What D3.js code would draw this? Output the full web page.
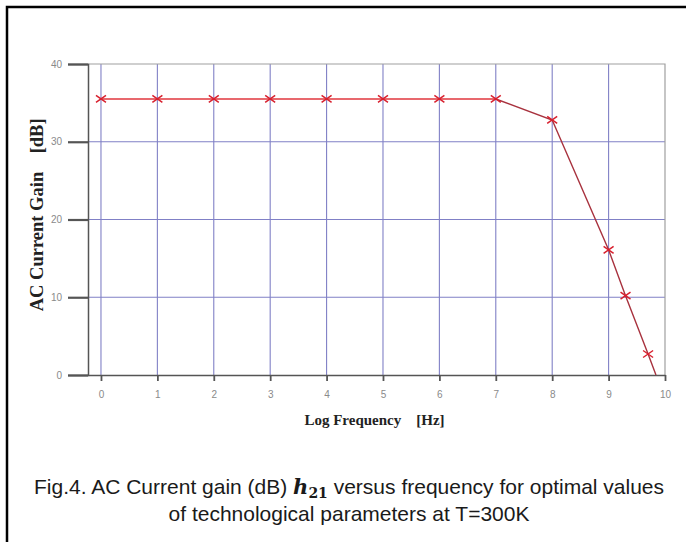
<!DOCTYPE html>
<html lang="en">
<head>
  <meta charset="UTF-8">
  <title>AC Current Gain vs Log Frequency</title>
  <script src="https://d3js.org/d3.v7.min.js"></script>
  <style>
    body { margin: 0; background: #fff; }
    svg { display: block; background: #fff; }
  </style>
</head>
<body>

<div id="chart"></div>

<script>
  // data
  const logFreq = [0, 1, 2, 3, 4, 5, 6, 7, 8, 9, 9.3, 9.7];
  const gainDb  = [35.5, 35.5, 35.5, 35.5, 35.5, 35.5, 35.5, 35.5, 32.8, 16.1, 10.2, 2.7];
  const tailPoint = [9.84, 0];          // where the curve leaves through the x axis (no marker)
  const flatEndIndex = 7;               // curve colour changes after this point
  const xTicks = [0, 1, 2, 3, 4, 5, 6, 7, 8, 9, 10];
  const yTicks = [0, 10, 20, 30, 40];
  const yMinorTicks = [2.5, 5, 7.5, 12.5, 15, 17.5, 22.5, 25, 27.5, 32.5, 35, 37.5];

  const width = 686, height = 542;
  const margin = { top: 64, right: 21, bottom: 167, left: 88 };

  const svg = d3.select("#chart").append("svg").attr("width", width).attr("height", height);

  // outer frame (cut off on the right and bottom)
  svg.append("path")
    .attr("d", `M7,${height} V7 H${width}`)
    .attr("fill", "none").attr("stroke", "#000").attr("stroke-width", 2.5);

  const x = d3.scaleLinear().domain([-0.23, 10]).range([margin.left, width - margin.right]);
  const y = d3.scaleLinear().domain([0, 40]).range([height - margin.bottom, margin.top]);

  // grid
  svg.append("g").selectAll("line").data(xTicks.slice(0, -1)).join("line")
    .attr("x1", d => x(d)).attr("x2", d => x(d))
    .attr("y1", y(40)).attr("y2", y(0))
    .attr("stroke", "#8080c6").attr("stroke-width", 1.1);
  svg.append("g").selectAll("line").data(yTicks.slice(1, -1)).join("line")
    .attr("x1", x.range()[0]).attr("x2", x.range()[1])
    .attr("y1", d => y(d)).attr("y2", d => y(d))
    .attr("stroke", "#8080c6").attr("stroke-width", 1.1);

  // top and right frame
  svg.append("path")
    .attr("d", `M${x.range()[0]},${y(40)} H${x(10)} V${y(0)}`)
    .attr("fill", "none").attr("stroke", "#a0a0a0").attr("stroke-width", 1.2);

  // y axis
  const yAxisG = svg.append("g").attr("transform", `translate(${margin.left},0)`);
  yAxisG.call(d3.axisLeft(y).tickValues(yMinorTicks).tickSize(10).tickFormat(""));
  yAxisG.call(d3.axisLeft(y).tickValues(yTicks).tickSize(20).tickPadding(6));
  yAxisG.selectAll("path.domain").attr("stroke", "#555").attr("stroke-width", 1.5);
  yAxisG.selectAll(".tick line").attr("stroke", "#555").attr("stroke-width", 1.2);
  yAxisG.selectAll(".tick line").filter(d => yTicks.includes(d)).attr("stroke-width", 2.2);
  yAxisG.selectAll("text").attr("fill", "#8a8a8a").style("font", "10px 'Liberation Sans', Arial");

  // x axis: integer ticks plus log-decade minor ticks
  const xMinor = [];
  xTicks.slice(0, -1).forEach(n => [2, 3, 4, 5, 6, 7, 8, 9].forEach(k => xMinor.push(n + Math.log10(k))));
  const xAxisG = svg.append("g").attr("transform", `translate(0,${y(0)})`);
  xAxisG.call(d3.axisBottom(x).tickValues(xMinor).tickSize(3).tickFormat("").tickSizeOuter(0));
  xAxisG.call(d3.axisBottom(x).tickValues(xTicks).tickSize(6).tickPadding(10).tickSizeOuter(0));
  xAxisG.selectAll("path.domain").attr("stroke", "#555").attr("stroke-width", 1.5);
  xAxisG.selectAll(".tick line").attr("stroke", "#555").attr("stroke-width", 1);
  xAxisG.selectAll(".tick line").filter(d => xTicks.includes(d)).attr("stroke-width", 1.8);
  xAxisG.selectAll("text").attr("fill", "#8a8a8a").style("font", "10px 'Liberation Sans', Arial");

  // axis titles
  svg.append("text")
    .attr("x", x(4.85)).attr("y", 425)
    .attr("text-anchor", "middle")
    .style("font", "bold 15px 'Liberation Serif', 'Times New Roman', serif")
    .attr("fill", "#222")
    .attr("xml:space", "preserve")
    .text("Log Frequency    [Hz]");

  svg.append("text")
    .attr("transform", `translate(43,${y(20.6)}) rotate(-90)`)
    .attr("text-anchor", "middle")
    .style("font", "bold 18.5px 'Liberation Serif', 'Times New Roman', serif")
    .attr("fill", "#222")
    .attr("xml:space", "preserve")
    .text("AC Current Gain    [dB]");

  // curve
  const pts = logFreq.map((f, i) => ({ f, g: gainDb[i] }));
  const line = d3.line().x(d => x(d.f)).y(d => y(d.g));

  svg.append("path")
    .datum(pts.slice(0, flatEndIndex + 1))
    .attr("d", line)
    .attr("fill", "none").attr("stroke", "#e0363c").attr("stroke-width", 1.6);

  svg.append("path")
    .datum(pts.slice(flatEndIndex).concat([{ f: tailPoint[0], g: tailPoint[1] }]))
    .attr("d", line)
    .attr("fill", "none").attr("stroke", "#a8323e").attr("stroke-width", 1.4);

  // x markers
  svg.append("g").selectAll("path").data(pts).join("path")
    .attr("transform", d => `translate(${x(d.f)},${y(d.g)})`)
    .attr("d", "M-5,-3.5 L5,3.5 M-5,3.5 L5,-3.5")
    .attr("fill", "none").attr("stroke", "#d8202e").attr("stroke-width", 1.5);

  // caption
  const cap = svg.append("text")
    .attr("text-anchor", "middle")
    .style("font", "21px 'Liberation Sans', Arial, sans-serif")
    .attr("fill", "#1a1a1a");
  const l1 = cap.append("tspan").attr("x", 349).attr("y", 494);
  l1.append("tspan").text("Fig.4. AC Current gain (dB) ");
  l1.append("tspan").style("font", "italic bold 21px 'DejaVu Serif', serif").text("h");
  l1.append("tspan").style("font", "bold 14px 'DejaVu Serif', serif").attr("dy", 4).text("21");
  l1.append("tspan").attr("dy", -4).text(" versus frequency for optimal values");
  cap.append("tspan").attr("x", 349).attr("y", 521).text("of technological parameters at T=300K");
</script>

</body>
</html>
